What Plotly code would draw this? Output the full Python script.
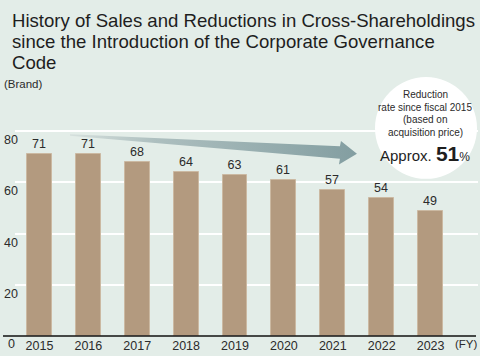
import plotly.graph_objects as go

# ---- data ----
years = ["2015", "2016", "2017", "2018", "2019", "2020", "2021", "2022", "2023"]
brands = [71, 71, 68, 64, 63, 61, 57, 54, 49]
y_ticks = [20, 40, 60, 80]

title_lines = [
    "History of Sales and Reductions in Cross-Shareholdings",
    "since the Introduction of the Corporate Governance",
    "Code",
]
unit_label = "(Brand)"
x_unit_label = "(FY)"
circle_lines = ["Reduction", "rate since fiscal 2015", "(based on", "acquisition price)"]
reduction_rate = 51

# trend arrow outline in data units (category index, value)
arrow_x = [0.625, 6.146, 6.167, 6.494, 6.126, 6.146, 0.625, 0.625]
arrow_y = [78.8, 74.1, 76.2, 71.2, 67.0, 69.2, 78.2, 78.8]

# ---- layout geometry ----
W, H = 480, 356
ML, MR, MT, MB = 15, 2, 80, 19.5
PW, PH = W - ML - MR, H - MT - MB
X_RANGE = [-0.5, 8.97]
Y_RANGE = [0, 100]

def px(xp):
    return (xp - ML) / PW

def py(yp):
    return (H - MB - yp) / PH

BG = "#e3ede8"
BAR = "#b39a7f"
TXT = "#2b2b2b"
SANS = "Liberation Sans, Arial, Helvetica, sans-serif"

idx = list(range(len(years)))

fig = go.Figure()
fig.add_trace(go.Bar(
    x=idx, y=brands, width=0.51,
    marker=dict(color=BAR, line=dict(color="#cbb9a2", width=1)),
    text=brands, textposition="outside", cliponaxis=False,
    textfont=dict(family=SANS, size=12.5, color=TXT),
    hoverinfo="skip",
))
fig.add_trace(go.Scatter(
    x=arrow_x, y=arrow_y, mode="lines", fill="toself",
    line=dict(width=0, color="rgba(0,0,0,0)"),
    fillgradient=dict(type="horizontal",
                      colorscale=[[0, "#d6e0dd"], [0.3, "#adbfbf"], [1, "#839ea1"]]),
    hoverinfo="skip", showlegend=False,
))

shapes = [
    # baseline
    dict(type="line", xref="paper", yref="paper", x0=px(3), x1=px(476), y0=0, y1=0,
         line=dict(color="#111111", width=1.6), layer="above"),
    # circle
    dict(type="circle", xref="paper", yref="paper", x0=px(375), x1=px(477),
         y0=py(179), y1=py(77), fillcolor="white", line=dict(width=0), layer="above"),
]

ann = []
for i, t in enumerate(title_lines):
    ann.append(dict(text=t, xref="paper", yref="paper", x=px(10), y=py(20.5 + 21 * i),
                    xanchor="left", yanchor="middle", showarrow=False,
                    font=dict(family=SANS, size=18.6, color="#1e1e1e")))
ann.append(dict(text=unit_label, xref="paper", yref="paper", x=px(2), y=py(84.5),
                xanchor="left", yanchor="middle", showarrow=False,
                font=dict(family=SANS, size=11.5, color=TXT)))
for v in y_ticks:
    ann.append(dict(text=str(v), xref="paper", yref="y", x=px(2), y=v,
                    xanchor="left", yanchor="top", showarrow=False, yshift=0,
                    font=dict(family=SANS, size=12.5, color=TXT)))
ann.append(dict(text="0", xref="paper", yref="paper", x=px(11), y=py(345),
                xanchor="center", yanchor="middle", showarrow=False,
                font=dict(family=SANS, size=12.5, color=TXT)))
ann.append(dict(text=x_unit_label, xref="paper", yref="paper", x=px(480), y=py(345),
                xanchor="right", yanchor="middle", showarrow=False,
                font=dict(family=SANS, size=11.5, color=TXT)))
for i, t in enumerate(circle_lines):
    ann.append(dict(text=t, xref="paper", yref="paper", x=px(425), y=py(95 + 12.5 * i),
                    xanchor="center", yanchor="middle", showarrow=False,
                    font=dict(family=SANS, size=10, color=TXT)))
ann.append(dict(
    text=("<span style='font-size:15px'>Approx. </span>"
          f"<b style='font-size:21px'>{reduction_rate}</b>"
          "<span style='font-size:12px'>%</span>"),
    xref="paper", yref="paper", x=px(425), y=py(153.5), xanchor="center", yanchor="middle",
    showarrow=False, font=dict(family=SANS, size=15, color="#1e1e1e")))

fig.update_layout(
    width=W, height=H, margin=dict(l=ML, r=MR, t=MT, b=MB, autoexpand=False),
    paper_bgcolor=BG, plot_bgcolor=BG, showlegend=False,
    bargap=0,
    xaxis=dict(range=X_RANGE, tickvals=idx, ticktext=years, showgrid=False,
               zeroline=False, showline=False, ticks="", automargin=False,
               tickfont=dict(family=SANS, size=12.5, color=TXT), fixedrange=True),
    yaxis=dict(range=Y_RANGE, tickvals=y_ticks, showticklabels=False, showgrid=True,
               gridcolor="white", gridwidth=1.6, zeroline=False, showline=False,
               automargin=False, fixedrange=True),
    shapes=shapes, annotations=ann,
)

fig.write_html("out.html", config={"displayModeBar": False},
               post_script="document.body.style.margin='0';document.body.style.overflow='hidden';")
